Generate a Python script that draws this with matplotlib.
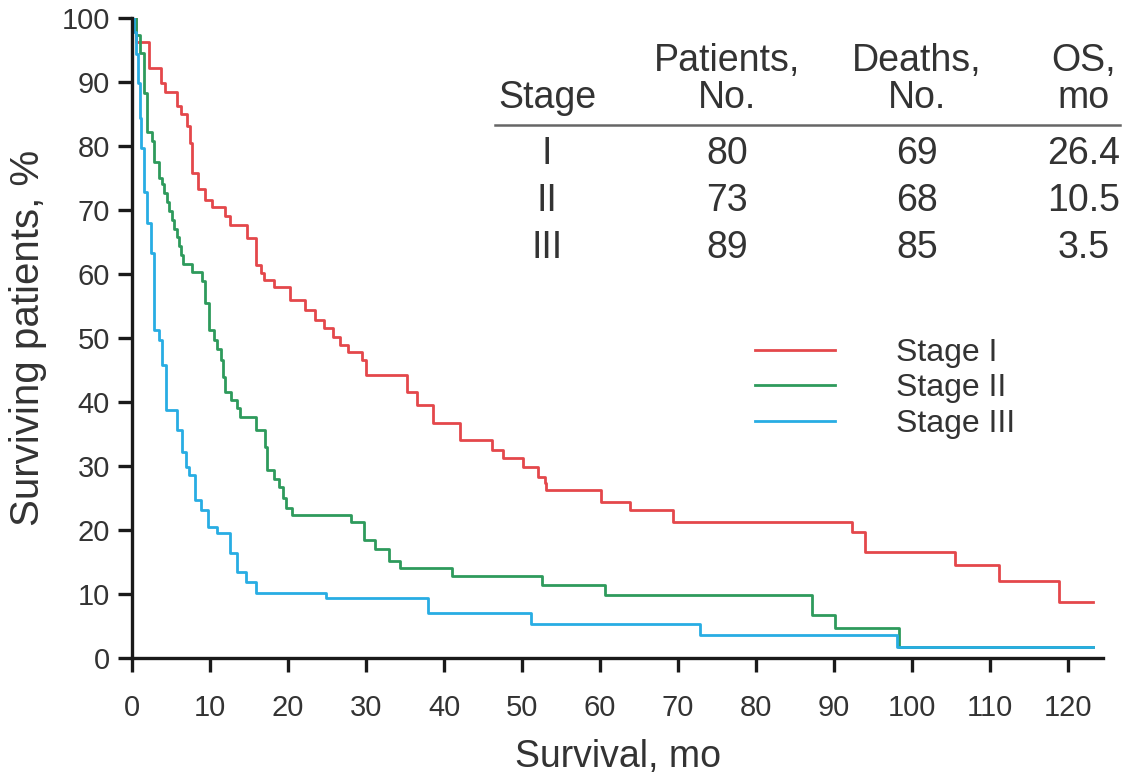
import numpy as np
import matplotlib.pyplot as plt
from matplotlib.lines import Line2D

plt.rcParams['font.family'] = ['Liberation Sans', 'DejaVu Sans']

# Kaplan-Meier step data (months, % surviving after the step)
t_I = [0.5, 2.2, 3.7, 4.2, 5.8, 6.3, 7.1, 7.4, 7.7, 8.5, 9.4, 10.3, 11.9, 12.6, 14.8,
       15.9, 16.6, 16.9, 18.2, 20.2, 22.2, 23.4, 24.6, 25.8, 26.7, 27.7, 29.5, 30.0,
       35.2, 36.6, 38.6, 42.0, 46.1, 47.5, 50.1, 52.0, 52.9, 53.1, 60.1, 63.8, 69.4,
       92.3, 94.0, 105.5, 111.2, 118.9]
s_I = [96.2, 92.2, 89.8, 88.5, 86.2, 85.0, 83.2, 80.5, 75.8, 73.2, 71.5, 70.5, 69.0, 67.6, 65.6,
       61.4, 60.2, 59.0, 58.0, 56.0, 54.4, 52.8, 51.5, 50.2, 48.9, 47.8, 46.6, 44.2,
       41.6, 39.5, 36.7, 34.0, 32.5, 31.2, 29.8, 28.3, 27.3, 26.3, 24.4, 23.1, 21.3,
       19.7, 16.6, 14.5, 12.0, 8.7]

t_II = [0.5, 1.0, 1.5, 1.9, 2.6, 2.8, 3.5, 3.9, 4.1, 4.5, 4.7, 5.1, 5.4, 5.8, 6.0, 6.3, 6.5,
        7.7, 9.0, 9.4, 9.9, 10.5, 10.9, 11.4, 11.7, 11.9, 12.7, 13.5, 13.9, 15.9, 17.1, 17.3,
        18.2, 18.9, 19.3, 19.8, 20.5, 28.1, 29.8, 31.1, 33.0, 34.3, 41.0, 52.6, 60.6, 87.2,
        90.1, 98.3]
s_II = [97.3, 94.5, 88.3, 82.2, 80.8, 77.5, 75.0, 74.0, 72.6, 71.2, 69.9, 68.5, 67.1, 65.8, 64.4, 63.0, 61.6,
        60.3, 58.9, 55.5, 51.2, 49.7, 48.2, 46.6, 43.9, 41.6, 40.3, 39.0, 37.6, 35.6, 32.9, 29.4,
        28.0, 26.7, 25.0, 23.4, 22.3, 21.3, 18.4, 17.0, 15.2, 14.0, 12.8, 11.3, 9.8, 6.7,
        4.7, 1.7]

t_III = [0.2, 0.5, 0.8, 1.0, 1.2, 1.5, 1.9, 2.4, 2.8, 3.5, 3.8, 4.4, 5.8, 6.4, 6.9, 7.3, 8.1,
         8.9, 9.8, 10.9, 12.6, 13.5, 14.6, 15.9, 24.9, 37.9, 51.2, 72.8, 98.1]
s_III = [97.8, 94.4, 89.9, 84.3, 79.7, 72.8, 68.0, 63.3, 51.2, 49.7, 45.8, 38.8, 35.6, 32.2, 29.8, 28.6, 24.7,
         23.1, 20.5, 19.5, 16.4, 13.4, 11.9, 10.2, 9.4, 7.0, 5.3, 3.6, 1.7]

t_end = 123.2

stages = ['I', 'II', 'III']
patients = [80, 73, 89]
deaths = [69, 68, 85]
os_mo = ['26.4', '10.5', '3.5']
colors = ['#e4474b', '#2e9a5c', '#28ade3']

fig = plt.figure(figsize=(11.28, 7.84), dpi=100)
ax = fig.add_axes([0.117, 0.161, 0.861, 0.816])

for t, s, c, st in zip([t_I, t_II, t_III], [s_I, s_II, s_III], colors, stages):
    tt = np.concatenate([[0], t, [t_end]])
    ss = np.concatenate([[100], s, [s[-1]]])
    ax.step(tt, ss, where='post', color=c, lw=2.0, label='Stage ' + st)

ax.set_xlim(0, 124.5)
ax.set_ylim(0, 100)
ax.set_xticks(np.arange(0, 121, 10))
ax.set_yticks(np.arange(0, 101, 10))
for sp in ['top', 'right']:
    ax.spines[sp].set_visible(False)
for sp in ['left', 'bottom']:
    ax.spines[sp].set_linewidth(2.4)
    ax.spines[sp].set_color('#1a1a1a')
ax.tick_params(direction='out', length=10, width=2.4, color='#1a1a1a',
               labelsize=21, labelcolor='#333333')
ax.tick_params(axis='x', pad=16)
ax.tick_params(axis='y', pad=6)
ax.set_xlabel('Survival, mo', fontsize=27, color='#333333', labelpad=12)
ax.set_ylabel('Surviving patients, %', fontsize=29, color='#333333', labelpad=10)

leg = ax.legend(loc='upper left', bbox_to_anchor=(0.612, 0.545), frameon=False,
                fontsize=23, handlelength=2.5, handletextpad=1.9, labelspacing=0.17,
                labelcolor='#333333')

# table in the upper right
tc = '#333333'
fs = 27
cols = [547, 727, 917, 1084]
def fx(px):
    return px / 1128
def fy(py):
    return 1 - py / 784

fig.text(fx(cols[0]), fy(98), 'Stage', ha='center', va='center', fontsize=fs, color=tc)
fig.text(fx(cols[1]), fy(61), 'Patients,', ha='center', va='center', fontsize=fs, color=tc)
fig.text(fx(cols[1]), fy(98), 'No.', ha='center', va='center', fontsize=fs, color=tc)
fig.text(fx(cols[2]), fy(61), 'Deaths,', ha='center', va='center', fontsize=fs, color=tc)
fig.text(fx(cols[2]), fy(98), 'No.', ha='center', va='center', fontsize=fs, color=tc)
fig.text(fx(cols[3]), fy(61), 'OS,', ha='center', va='center', fontsize=fs, color=tc)
fig.text(fx(cols[3]), fy(98), 'mo', ha='center', va='center', fontsize=fs, color=tc)
fig.add_artist(Line2D([fx(495), fx(1120)], [fy(125), fy(125)], color='#666666', lw=1.8))

row_y = [154, 201, 248]
for i in range(3):
    y = fy(row_y[i])
    fig.text(fx(cols[0]), y, stages[i], ha='center', va='center', fontsize=fs, color=tc)
    fig.text(fx(cols[1]), y, str(patients[i]), ha='center', va='center', fontsize=fs, color=tc)
    fig.text(fx(cols[2]), y, str(deaths[i]), ha='center', va='center', fontsize=fs, color=tc)
    fig.text(fx(cols[3]), y, os_mo[i], ha='center', va='center', fontsize=fs, color=tc)

fig.savefig('out.png', dpi=100, facecolor='white')
